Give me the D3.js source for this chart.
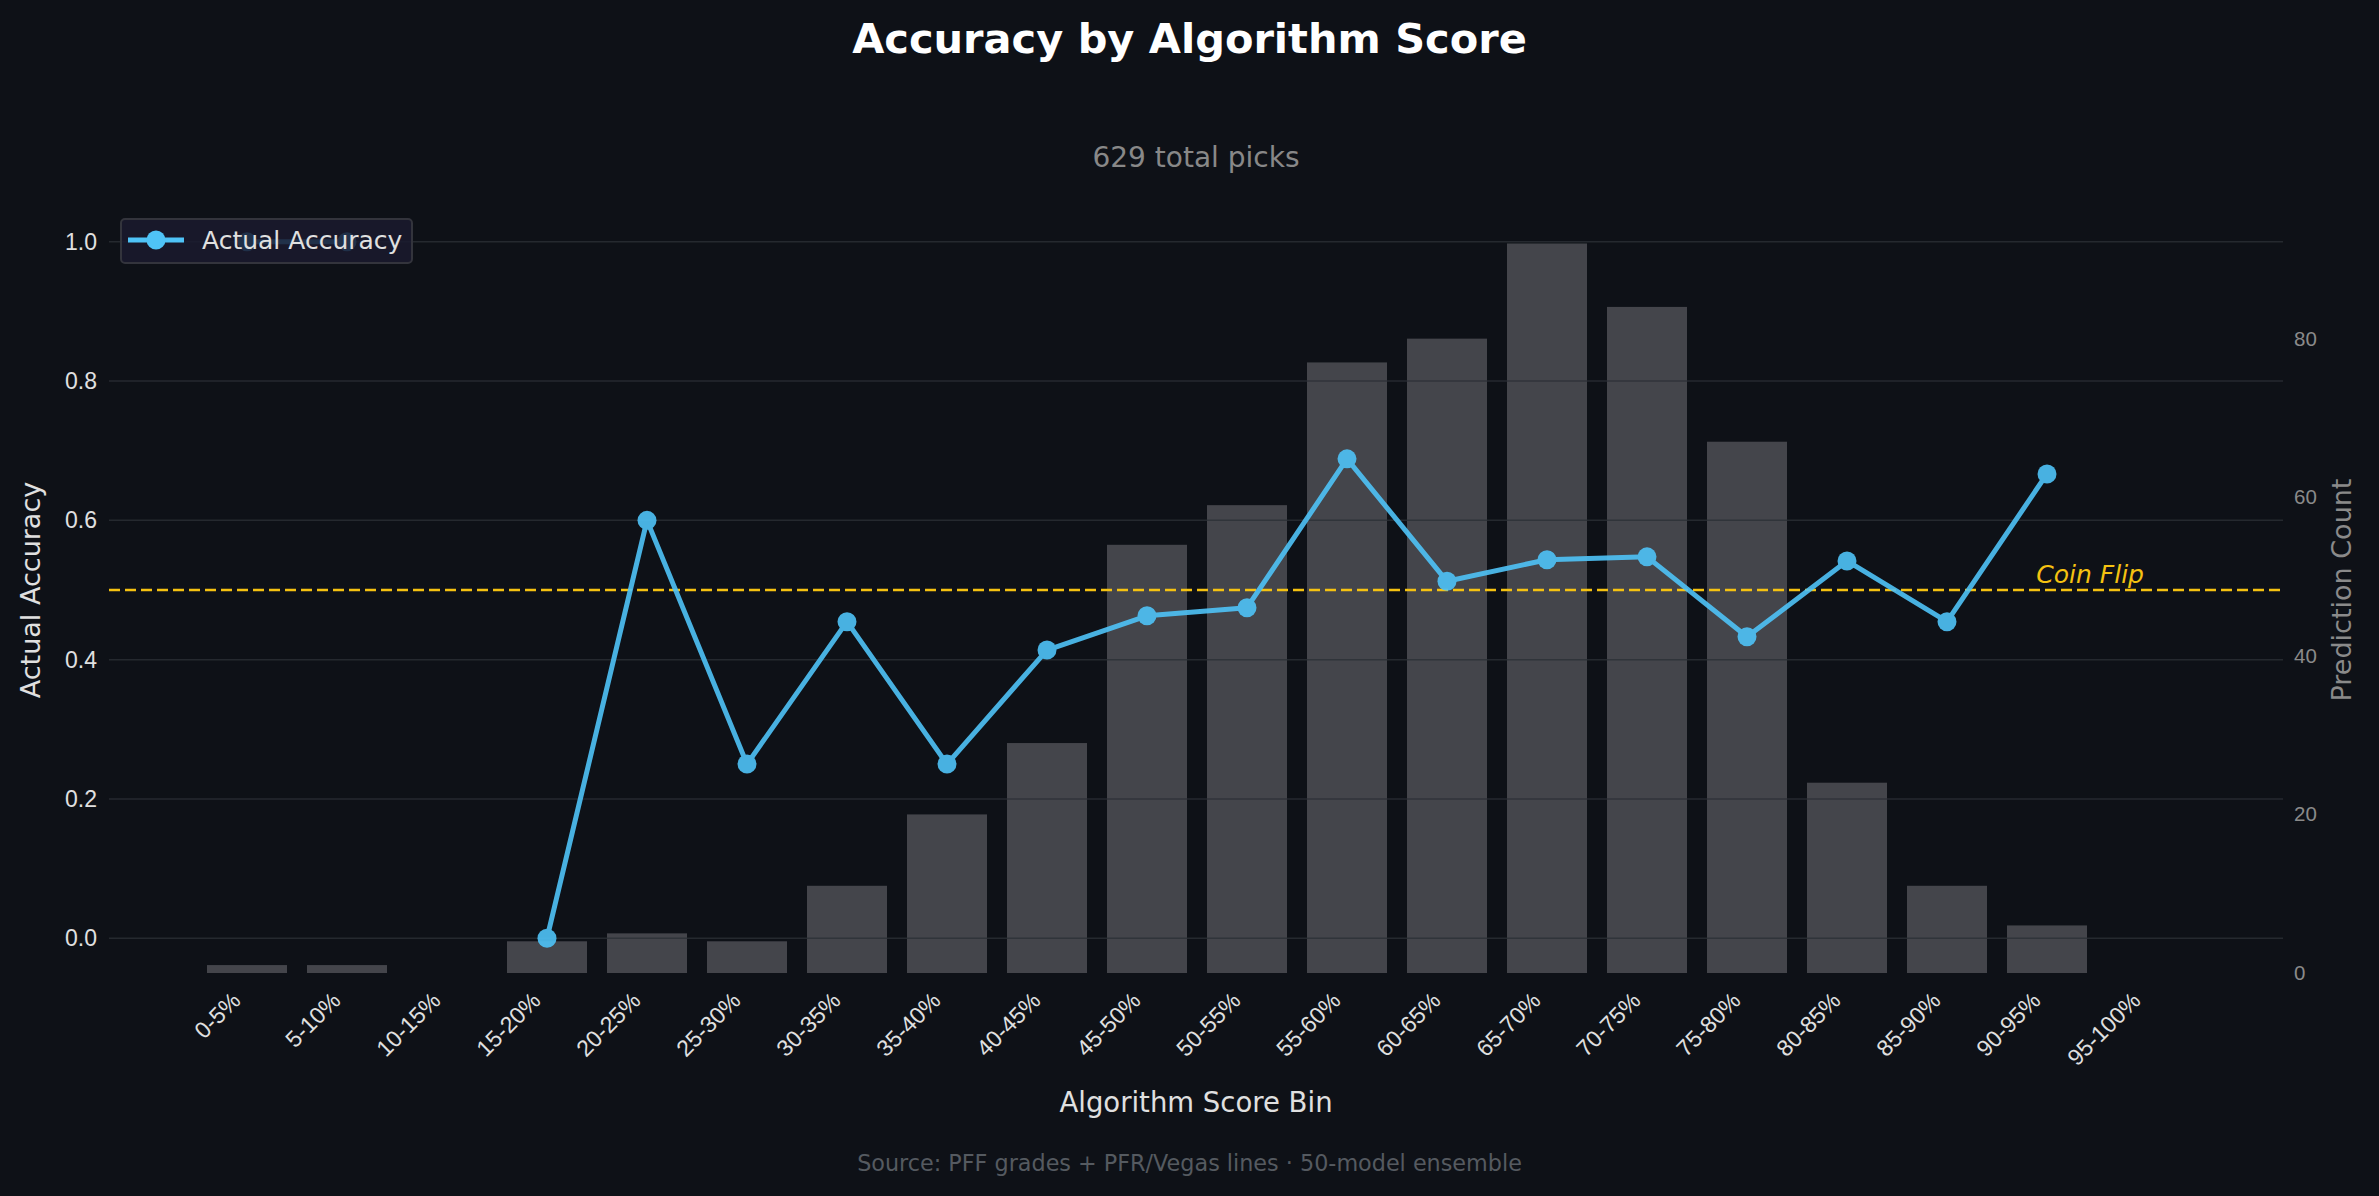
<!DOCTYPE html>
<html>
<head>
<meta charset="utf-8">
<script src="https://cdn.jsdelivr.net/npm/d3@7"></script>
<style>
  body { margin: 0; background: #0e1117; }
  svg { display: block; font-family: "DejaVu Sans", sans-serif; }
</style>
</head>
<body>
<div id="chart"></div>
<script>
// bins, pick counts and hit rate per bin (null = no picks / not plotted)
const bins = ["0-5%", "5-10%", "10-15%", "15-20%", "20-25%", "25-30%", "30-35%", "35-40%", "40-45%", "45-50%",
              "50-55%", "55-60%", "60-65%", "65-70%", "70-75%", "75-80%", "80-85%", "85-90%", "90-95%", "95-100%"];
const counts = [1, 1, 0, 4, 5, 4, 11, 20, 29, 54, 59, 77, 80, 92, 84, 67, 24, 11, 6, 0];
const accuracy = [1.0, 1.0, null, 0.0, 0.6, 0.25, 0.4545, 0.25, 0.4138, 0.463, 0.4746, 0.6883,
                  0.5125, 0.5435, 0.5476, 0.4328, 0.5417, 0.4545, 0.6667, null];
const accTicks = [0, 0.2, 0.4, 0.6, 0.8, 1.0];
const countTicks = [0, 20, 40, 60, 80];
const coinFlip = 0.5;

(function () {
  const W = 2379, H = 1196;
  // plot area (pixels)
  const plot = { left: 109, right: 2283, top: 207, bottom: 973 };

  const svg = d3.select("#chart")
    .append("svg")
      .attr("width", W)
      .attr("height", H);

  svg.append("rect").attr("width", W).attr("height", H).attr("fill", "#0e1117");

  // === SCALES ===
  const x = d3.scaleBand()
    .domain(bins)
    .range([197, 2197])
    .paddingInner(0.2)
    .paddingOuter(0.1);

  const yAcc = d3.scaleLinear()
    .domain([-0.05, 1.05])
    .range([plot.bottom, plot.top]);

  const yCount = d3.scaleLinear()
    .domain([0, d3.max(counts) * 1.05])
    .range([plot.bottom, plot.top]);

  // === BARS (right axis) ===
  svg.append("g")
    .selectAll("rect")
    .data(bins.map((b, i) => ({ bin: b, n: counts[i] })))
    .join("rect")
      .attr("x", d => x(d.bin))
      .attr("y", d => yCount(d.n))
      .attr("width", x.bandwidth())
      .attr("height", d => yCount(0) - yCount(d.n))
      .attr("fill", "#44454b");

  // grid (left axis ticks)
  svg.append("g")
    .selectAll("line")
    .data(accTicks)
    .join("line")
      .attr("x1", plot.left).attr("x2", plot.right)
      .attr("y1", d => yAcc(d)).attr("y2", d => yAcc(d))
      .attr("stroke", "#2c2f36")
      .attr("stroke-opacity", 0.8)
      .attr("stroke-width", 1.5);

  // === AXES ===
  const axL = svg.append("g")
    .attr("transform", `translate(${plot.left},0)`)
    .call(d3.axisLeft(yAcc).tickValues(accTicks).tickFormat(d3.format(".1f")).tickSize(0).tickPadding(12));
  axL.select(".domain").remove();
  axL.selectAll("text").attr("fill", "#e0e0e0").style("font-size", "23px");

  const axR = svg.append("g")
    .attr("transform", `translate(${plot.right},0)`)
    .call(d3.axisRight(yCount).tickValues(countTicks).tickSize(0).tickPadding(11));
  axR.select(".domain").remove();
  axR.selectAll("text").attr("fill", "#8a8a8a").style("font-size", "20.5px");

  const axB = svg.append("g")
    .attr("transform", `translate(0,${plot.bottom})`)
    .call(d3.axisBottom(x).tickSize(0));
  axB.select(".domain").remove();
  axB.selectAll("text")
    .attr("fill", "#e0e0e0")
    .attr("x", 0).attr("y", 0).attr("dy", 0)
    .attr("transform", "translate(-5,29) rotate(-45)")
    .style("text-anchor", "end")
    .style("font-size", "23px");

  // === COIN FLIP ===
  svg.append("line")
    .attr("x1", plot.left).attr("x2", plot.right)
    .attr("y1", yAcc(coinFlip)).attr("y2", yAcc(coinFlip))
    .attr("stroke", "#f5c211")
    .attr("stroke-width", 2.5)
    .attr("stroke-dasharray", "11,5");

  svg.append("text")
    .attr("x", x("95-100%") + x.bandwidth() / 2 - 3)
    .attr("y", yAcc(0.51))
    .attr("text-anchor", "end")
    .attr("fill", "#f5c211")
    .style("font-style", "italic")
    .style("font-size", "25px")
    .text("Coin Flip");

  // === ACCURACY LINE ===
  const pts = bins.map((b, i) => ({ bin: b, v: accuracy[i] }));
  const cx = d => x(d.bin) + x.bandwidth() / 2;
  const lineG = svg.append("g").attr("opacity", 0.9);

  lineG.append("path")
    .datum(pts)
    .attr("fill", "none")
    .attr("stroke", "#4fc3f7")
    .attr("stroke-width", 5)
    .attr("stroke-linejoin", "round")
    .attr("d", d3.line().defined(d => d.v != null).x(cx).y(d => yAcc(d.v)));

  lineG.selectAll("circle")
    .data(pts.filter(d => d.v != null))
    .join("circle")
      .attr("cx", cx)
      .attr("cy", d => yAcc(d.v))
      .attr("r", 9.5)
      .attr("fill", "#4fc3f7");

  // === LEGEND ===
  const lg = svg.append("g").attr("transform", "translate(121,219)");
  lg.append("rect")
    .attr("width", 291).attr("height", 44).attr("rx", 4)
    .attr("fill", "#1a1a2e").attr("fill-opacity", 0.85)
    .attr("stroke", "#33343c").attr("stroke-width", 2);
  lg.append("line")
    .attr("x1", 7).attr("x2", 63).attr("y1", 21).attr("y2", 21)
    .attr("stroke", "#4fc3f7").attr("stroke-width", 5);
  lg.append("circle").attr("cx", 35).attr("cy", 21).attr("r", 9.5).attr("fill", "#4fc3f7");
  lg.append("text")
    .attr("x", 81).attr("y", 30)
    .attr("fill", "#e0e0e0")
    .style("font-size", "25px")
    .text("Actual Accuracy");

  // === TEXTS ===
  svg.append("text")
    .attr("x", W / 2).attr("y", 53)
    .attr("text-anchor", "middle")
    .attr("fill", "#ffffff")
    .style("font-weight", "bold")
    .style("font-size", "41.5px")
    .text("Accuracy by Algorithm Score");

  svg.append("text")
    .attr("x", (plot.left + plot.right) / 2).attr("y", 167)
    .attr("text-anchor", "middle")
    .attr("fill", "#888888")
    .style("font-size", "28px")
    .text("629 total picks");

  svg.append("text")
    .attr("transform", `translate(40,${(plot.top + plot.bottom) / 2}) rotate(-90)`)
    .attr("text-anchor", "middle")
    .attr("fill", "#e0e0e0")
    .style("font-size", "27px")
    .text("Actual Accuracy");

  svg.append("text")
    .attr("transform", `translate(2351,${(plot.top + plot.bottom) / 2}) rotate(-90)`)
    .attr("text-anchor", "middle")
    .attr("fill", "#8a8a8a")
    .style("font-size", "27px")
    .text("Prediction Count");

  svg.append("text")
    .attr("x", (plot.left + plot.right) / 2).attr("y", 1112)
    .attr("text-anchor", "middle")
    .attr("fill", "#e0e0e0")
    .style("font-size", "27.5px")
    .text("Algorithm Score Bin");

  svg.append("text")
    .attr("x", W / 2).attr("y", 1171)
    .attr("text-anchor", "middle")
    .attr("fill", "#555a60")
    .style("font-size", "22.3px")
    .text("Source: PFF grades + PFR/Vegas lines · 50-model ensemble");
})();
</script>
</body>
</html>
